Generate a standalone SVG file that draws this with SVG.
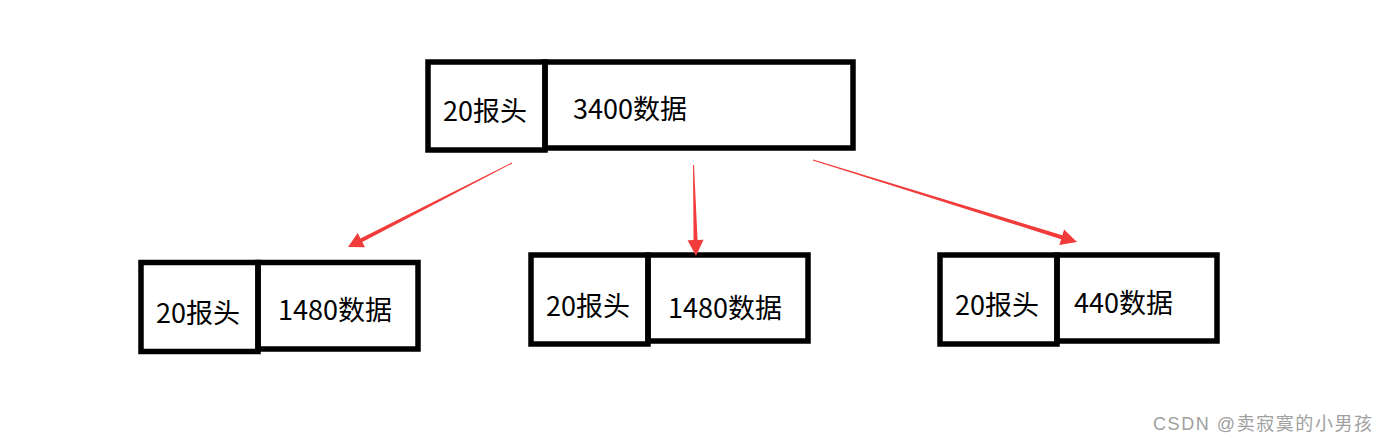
<svg xmlns="http://www.w3.org/2000/svg" width="1380" height="443" viewBox="0 0 1380 443">
<style>
.box{fill:none;stroke:#000;stroke-width:5.5}
.t{font-family:"Microsoft YaHei","Noto Sans CJK SC",sans-serif;font-size:27px;fill:#000}
.arr{fill:#f23b3b}
.wm{font-family:"Liberation Sans","Noto Sans CJK SC",sans-serif;font-size:18px;fill:#a0a0a0}
</style>
<rect width="1380" height="443" fill="#fff"/>
<g id="node-top">
<rect class="box" x="545" y="62" width="308" height="86"/>
<rect class="box" x="428" y="62" width="117" height="88"/>
<text class="t" x="443" y="121">20报头</text>
<text class="t" x="573" y="119">3400数据</text>
</g>
<g id="node-left">
<rect class="box" x="258" y="262.5" width="160" height="86.5"/>
<rect class="box" x="141" y="262.5" width="117" height="89"/>
<text class="t" x="156" y="322.5">20报头</text>
<text class="t" x="278" y="320">1480数据</text>
</g>
<g id="node-middle">
<rect class="box" x="648" y="255" width="160" height="86"/>
<rect class="box" x="531" y="255" width="117" height="89"/>
<text class="t" x="546" y="315.5">20报头</text>
<text class="t" x="668" y="318">1480数据</text>
</g>
<g id="node-right">
<rect class="box" x="1057" y="255" width="160" height="86"/>
<rect class="box" x="940" y="255" width="117" height="89"/>
<text class="t" x="955" y="315">20报头</text>
<text class="t" x="1074" y="313">440数据</text>
</g>
<g id="connectors">
<polygon class="arr" points="511.77,162.56 360.44,238.38 357.7,233.04 348,247 365,247.28 362.26,241.94 512.23,163.45"/>
<polygon class="arr" points="693,165.01 693.56,240.07 687.56,240.23 696,256 703.56,239.79 697.56,239.96 694,164.99"/>
<polygon class="arr" points="812.85,160.48 1061.13,239.16 1059.35,244.89 1077,242 1064.09,229.61 1062.31,235.34 813.15,159.52"/>
</g>
<text class="wm" x="1153" y="430" textLength="219" lengthAdjust="spacing">CSDN @卖寂寞的小男孩</text>
</svg>
